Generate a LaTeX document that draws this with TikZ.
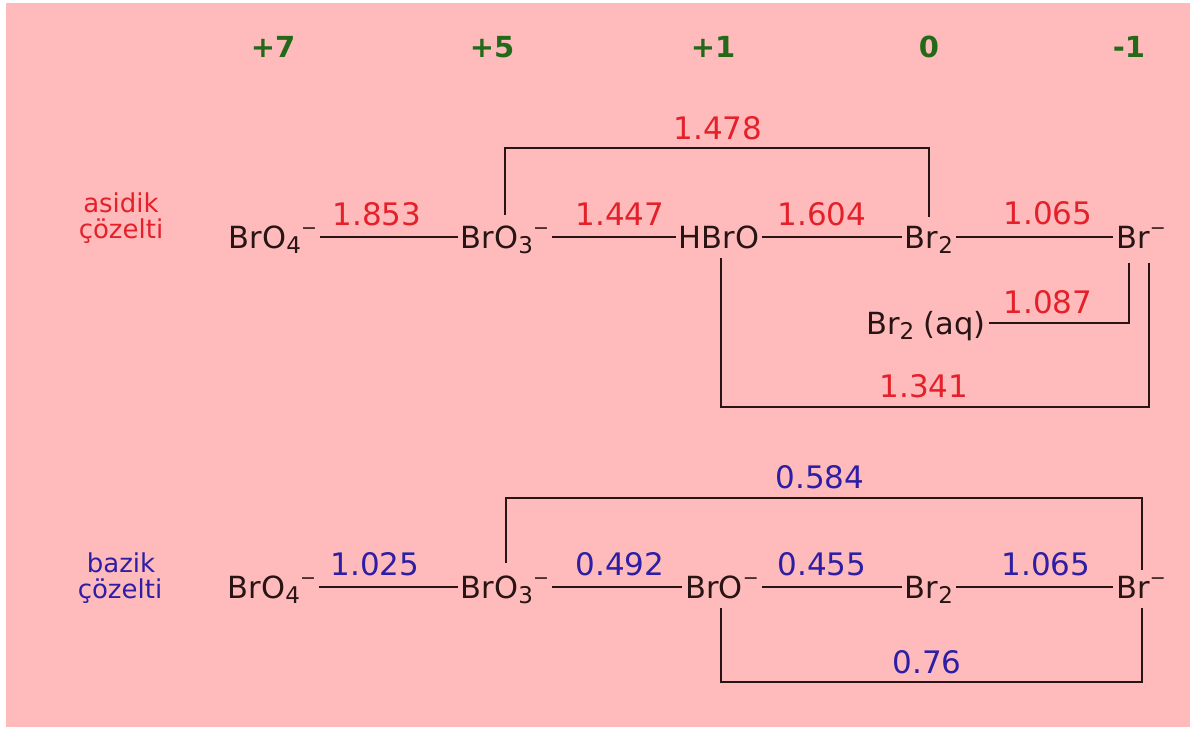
\documentclass[tikz,border=0pt]{standalone}
\usepackage{fontspec}
\setmainfont{DejaVu Sans}
\definecolor{bg}{RGB}{255,187,187}
\definecolor{redt}{RGB}{228,32,42}
\definecolor{bluet}{RGB}{45,30,165}
\definecolor{greent}{RGB}{35,105,25}
\definecolor{ink}{RGB}{40,20,20}
\newcommand{\subs}[1]{\raisebox{-5pt}{\fontsize{23}{23}\selectfont #1}}
\newcommand{\ionm}{\raisebox{14pt}{\fontsize{19}{19}\selectfont −}}
\begin{document}
\begin{tikzpicture}[x=1pt,y=-1pt]
\tikzset{
 species/.style={text=ink, font=\fontsize{30.5}{34}\selectfont, inner xsep=3pt, inner ysep=0pt, text height=22pt, text depth=0pt},
 link/.style={draw=ink, line width=2.4pt},
 redlab/.style={text=redt, font=\fontsize{31}{34}\selectfont, inner sep=0pt},
 bluelab/.style={text=bluet, font=\fontsize{31}{34}\selectfont, inner sep=0pt},
 ox/.style={text=greent, font=\bfseries\fontsize{29}{32}\selectfont, inner sep=0pt},
 side/.style={font=\fontsize{26}{28}\selectfont, anchor=base, inner sep=0pt}
}
\fill[white] (0,0) rectangle (1190,729);
\fill[bg] (6,3) rectangle (1190,727);
\useasboundingbox (0,0) rectangle (1190,729);

% oxidation states
\node[ox] (o7) at (273,47) {+7};
\node[ox] (o5) at (492,47) {+5};
\node[ox] (o1) at (713,47) {+1};
\node[ox] (o0) at (929,47) {0};
\node[ox] (om) at (1129,47) {-1};

% side labels
\node[side, text=redt] (as1) at (121,212) {asidik};
\node[side, text=redt] (as2) at (121,238) {çözelti};
\node[side, text=bluet] (bz1) at (121,572) {bazik};
\node[side, text=bluet] (bz2) at (120,598) {çözelti};

% acidic species
\node[species] (a7) at (273,237) {BrO\subs{4}\ionm};
\node[species] (a5) at (505,237) {BrO\subs{3}\ionm};
\node[species] (a1) at (719,237) {HBrO};
\node[species] (a0) at (929,237) {Br\subs{2}};
\node[species] (am) at (1141,237) {Br\ionm};
\node[species] (aq) at (926,323) {Br\subs{2} (aq)};

\draw[link] (a7) -- (a5);
\draw[link] (a5) -- (a1);
\draw[link] (a1) -- (a0);
\draw[link] (a0) -- (am);

\coordinate (a5t) at ([yshift=11pt]a5.north);
\coordinate (a0t) at ([yshift=9pt]a0.north);
\coordinate (ytop) at (0,148);
\draw[link] (a5t) -- (a5t |- ytop) -| (a0t);

\coordinate (a1b) at ([xshift=2pt,yshift=-10pt]a1.south);
\coordinate (amr) at ([xshift=8pt,yshift=-15pt]am.south);
\coordinate (aml) at ([xshift=-12pt,yshift=-15pt]am.south);
\coordinate (ybot) at (0,407);
\draw[link] (a1b) -- (a1b |- ybot) -| (amr);
\draw[link] (aq) -| (aml);

\node[redlab] (l1853) at (377,214) {1.853};
\node[redlab] (l1447) at (620,214) {1.447};
\node[redlab] (l1604) at (822,214) {1.604};
\node[redlab] (l1065a) at (1048,213) {1.065};
\node[redlab] (l1478) at (718,128) {1.478};
\node[redlab] (l1087) at (1048,302) {1.087};
\node[redlab] (l1341) at (924,386) {1.341};

% basic species
\node[species] (b7) at (272,587) {BrO\subs{4}\ionm};
\node[species] (b5) at (505,587) {BrO\subs{3}\ionm};
\node[species] (b1) at (722,587) {BrO\ionm};
\node[species] (b0) at (929,587) {Br\subs{2}};
\node[species] (bm) at (1141,587) {Br\ionm};

\draw[link] (b7) -- (b5);
\draw[link] (b5) -- (b1);
\draw[link] (b1) -- (b0);
\draw[link] (b0) -- (bm);

\coordinate (b5t) at ([xshift=1pt,yshift=13pt]b5.north);
\coordinate (bmt) at ([xshift=1pt,yshift=6pt]bm.north);
\coordinate (ytopb) at (0,498);
\draw[link] (b5t) -- (b5t |- ytopb) -| (bmt);

\coordinate (b1b) at ([xshift=-1pt,yshift=-10pt]b1.south);
\coordinate (bmb) at ([xshift=1pt,yshift=-10pt]bm.south);
\coordinate (ybotb) at (0,682);
\draw[link] (b1b) -- (b1b |- ybotb) -| (bmb);

\node[bluelab] (l1025) at (375,564) {1.025};
\node[bluelab] (l0492) at (620,564) {0.492};
\node[bluelab] (l0455) at (822,564) {0.455};
\node[bluelab] (l1065b) at (1046,564) {1.065};
\node[bluelab] (l0584) at (820,477) {0.584};
\node[bluelab] (l076) at (927,662) {0.76};
\end{tikzpicture}
\end{document}
